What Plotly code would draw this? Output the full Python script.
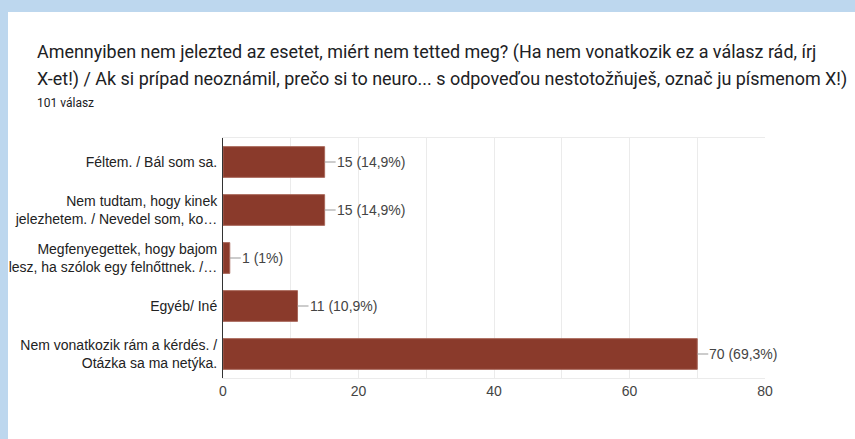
import plotly.graph_objects as go

# Válaszok / odpovede
kategoriak = [
    "Féltem. / Bál som sa.",
    "Nem tudtam, hogy kinek<br>jelezhetem. / Nevedel som, ko…",
    "Megfenyegettek, hogy bajom<br>lesz, ha szólok egy felnőttnek. /…",
    "Egyéb/ Iné",
    "Nem vonatkozik rám a kérdés. /<br>Otázka sa ma netýka.",
]
ertekek = [15, 15, 1, 11, 70]
szazalekok = ["14,9%", "14,9%", "1%", "10,9%", "69,3%"]

cim1 = "Amennyiben nem jelezted az esetet, miért nem tetted meg? (Ha nem vonatkozik ez a válasz rád, írj"
cim2 = "X-et!) / Ak si prípad neoznámil, prečo si to neuro... s odpoveďou nestotožňuješ, označ ju písmenom X!)"
valaszok = "101 válasz"

W, H = 855, 439
L, R, T, B = 223, 90, 138, 61
pw, ph = W - L - R, H - T - B


def px_x(p):
    return (p - L) / pw


def px_y(p):
    return 1 + (T - p) / ph


fig = go.Figure()
fig.add_trace(go.Bar(
    x=ertekek, y=kategoriak, orientation="h",
    marker=dict(color="#8a3a2b", line=dict(color="#a8675a", width=1)),
    width=0.64, hoverinfo="skip",
))

for k, v, s in zip(kategoriak, ertekek, szazalekok):
    fig.add_annotation(
        x=v, y=k, xref="x", yref="y",
        text=f"{v} ({s})", showarrow=True, arrowhead=0, arrowwidth=1,
        arrowcolor="#999999", ax=11, ay=0, xanchor="left", borderpad=0,
        font=dict(family="Liberation Sans, Arial", size=14, color="#444444"),
    )

fig.add_shape(type="rect", xref="paper", yref="paper",
              x0=px_x(8), x1=px_x(W + 100), y0=px_y(H + 100), y1=px_y(12),
              fillcolor="white", line=dict(width=0), layer="below")

for txt, yy, sz in [(cim1, 52, 17.95), (cim2, 79, 17.95), (valaszok, 103, 12)]:
    fig.add_annotation(
        x=px_x(35), y=px_y(yy), xref="paper", yref="paper",
        text=txt, showarrow=False, xanchor="left", yanchor="middle",
        font=dict(family="Roboto", size=sz, color="#202124"),
    )

fig.update_layout(
    width=W, height=H,
    margin=dict(l=L, r=R, t=T, b=B, autoexpand=False),
    paper_bgcolor="#bdd7ee", plot_bgcolor="white",
    showlegend=False,
    font=dict(family="Liberation Sans, Arial", size=14, color="#222222"),
)
fig.update_xaxes(
    range=[0, 80], dtick=20, showgrid=True, gridcolor="#ebebeb",
    minor=dict(dtick=10, showgrid=True, gridcolor="#ebebeb"),
    showline=True, linecolor="#ebebeb", mirror=True, zeroline=False,
    tickfont=dict(color="#444444", size=14), ticks="", ticklen=0,
    automargin=False,
)
fig.update_yaxes(
    autorange="reversed", showline=True, linecolor="#333333", linewidth=1,
    ticks="", ticklabelstandoff=2, tickfont=dict(color="#222222", size=14),
    automargin=False,
)

fig.write_html("out.html", config={"displayModeBar": False},
               post_script="document.body.style.margin='0';")
